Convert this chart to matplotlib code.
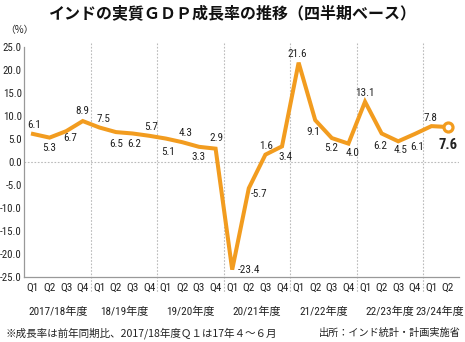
import matplotlib
matplotlib.use("Agg")
import matplotlib.pyplot as plt
import matplotlib.transforms as mtransforms
from matplotlib import font_manager as fm

# 四半期ごとの実質GDP成長率（前年同期比, %）
years = ["2017/18年度", "18/19年度", "19/20年度", "20/21年度", "21/22年度", "22/23年度", "23/24年度"]
quarters = ["Q1", "Q2", "Q3", "Q4"] * 6 + ["Q1", "Q2"]
growth = [6.1, 5.3, 6.7, 8.9, 7.5, 6.5, 6.2, 5.7, 5.1, 4.3, 3.3, 2.9,
          -23.4, -5.7, 1.6, 3.4, 21.6, 9.1, 5.2, 4.0, 13.1, 6.2, 4.5, 6.1,
          7.8, 7.6]
# ラベル位置のずれ（ピクセル）
label_dx = [1, 0, 4, 0, 4, 0, 2, 2, 2, 3, -1, 1, 17, 10, 1, 3, -1, -2, -1, 4, 0, -1, 2, 2, -1, 0]
label_dy = [9, -10, -7, 10, 8, -12, -11, 9, -13, 9, -10, 11, 0, -6, 9, -11, 9, -12, -10, -9, 9, -13, -9, -13, 8, -18]

installed = {f.name for f in fm.fontManager.ttflist}
narrow = next((n for n in ["Roboto Condensed", "Liberation Sans Narrow", "Open Sans Condensed",
                           "PT Sans Narrow", "Archivo Narrow", "DejaVu Sans"] if n in installed))
jp = "Noto Sans CJK JP"
mixed = [narrow, jp]

orange = "#F29C1F"
txt = "#222222"
gray = "#999999"

fig = plt.figure(figsize=(4.65, 3.42), dpi=100)
W, H = 465, 342
ax = fig.add_axes([24 / W, 65 / H, 435 / W, 230 / H])

x = list(range(len(growth)))
ax.plot(x, growth, color=orange, lw=2.9, solid_joinstyle="miter", zorder=3)
ax.plot(x[-1], growth[-1], "o", ms=6.5, mfc="white", mec=orange, mew=2.3, zorder=4)

ax.set_xlim(-0.54, 25.66)
ax.set_ylim(-25, 25)
ax.set_yticks(range(-25, 26, 5))
ax.set_yticklabels([f"{v:.1f}" for v in range(-25, 26, 5)], fontfamily=narrow, fontsize=7.8, color=txt)
ax.tick_params(axis="y", length=0, pad=1.5)
ax.set_xticks([])
for s in ["top", "right"]:
    ax.spines[s].set_visible(False)
for s in ["left", "bottom"]:
    ax.spines[s].set_color(gray)
    ax.spines[s].set_linewidth(0.9)

ax.axhline(0, color="#bbbbbb", lw=0.8, ls=(0, (1.5, 1.5)), zorder=1)

trans = mtransforms.blended_transform_factory(ax.transData, ax.transAxes)
for k in range(1, len(years)):
    ax.plot([4 * k - 0.5] * 2, [1.017, -0.07], transform=trans, color="#bbbbbb",
            lw=0.8, ls=(0, (1.5, 1.5)), clip_on=False, zorder=1)

for i, q in enumerate(quarters):
    ax.text(i, -0.048, q, transform=trans, ha="center", va="center",
            fontfamily=narrow, fontsize=8, color=txt)
for k, yl in enumerate(years):
    n = min(4, len(growth) - 4 * k)
    ax.text(4 * k + (n - 1) / 2, -0.152, yl, transform=trans, ha="center", va="center",
            family=mixed, fontsize=8, color=txt)

for i, v in enumerate(growth):
    last = i == len(growth) - 1
    ax.annotate(f"{v:.1f}", (i, v), xytext=(label_dx[i], label_dy[i]), textcoords="offset pixels",
                ha="center", va="center", fontfamily=narrow,
                fontsize=10.5 if last else 8, fontweight="bold" if last else "normal",
                color=txt, zorder=5)

fig.text(0.5, 1 - 13 / H, "インドの実質ＧＤＰ成長率の推移（四半期ベース）", ha="center", va="center",
         fontfamily=jp, fontsize=11.5, fontweight="bold", color="#111111")
fig.text(5 / W, 1 - 30 / H, "（%）", ha="left", va="center", family=[jp, narrow], fontsize=7, color=txt)
fig.text(5 / W, 1 - 333 / H, "※成長率は前年同期比、2017/18年度Ｑ１は17年４～６月", ha="left", va="center",
         family=[jp, narrow], fontsize=7.6, color=txt)
fig.text(461 / W, 1 - 333 / H, "出所：インド統計・計画実施省", ha="right", va="center",
         fontfamily=jp, fontsize=7.3, color=txt)

fig.savefig("out.png", dpi=100)
